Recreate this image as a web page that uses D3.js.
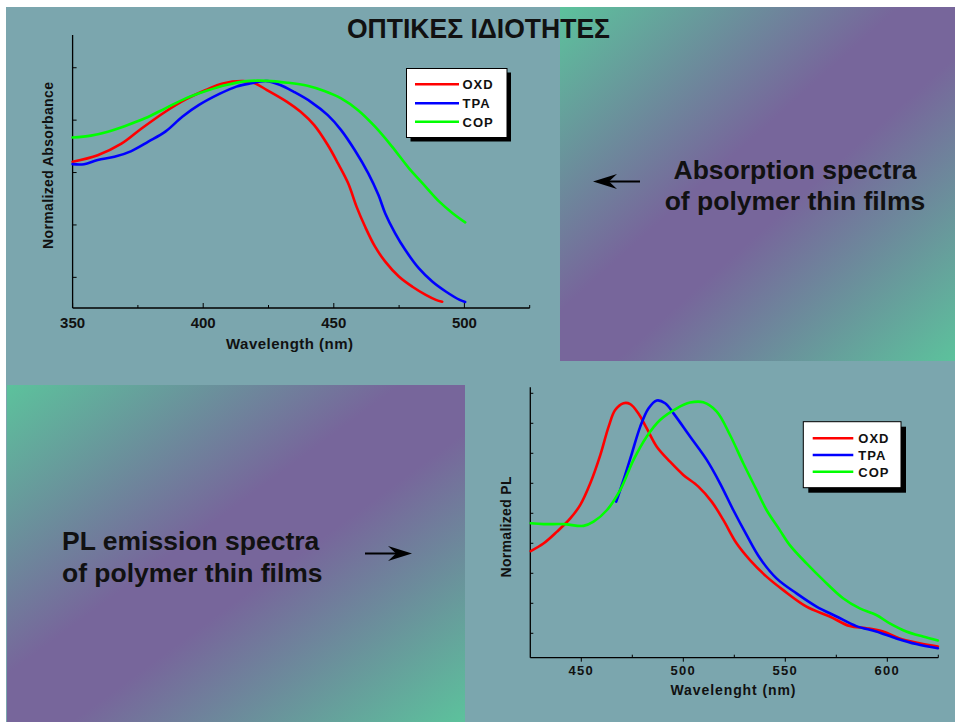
<!DOCTYPE html>
<html>
<head>
<meta charset="utf-8">
<script src="https://cdn.jsdelivr.net/npm/d3@7"></script>
<style>
  html, body { margin: 0; padding: 0; background: #fff; }
  svg { display: block; }
  text { font-family: "Liberation Sans", Arial, sans-serif; font-weight: bold; fill: #111; }
</style>
</head>
<body>
<svg id="slide" width="955" height="722"></svg>
<script>
// ---- Absorption spectra (wavelength in nm, normalized absorbance) ----
const absOxdWl  = [350, 359.6, 368.7, 376.4, 385.5, 393.3, 401, 407.5, 415.3, 419.2, 424.4, 432.1, 437.3, 442.5, 447.7, 451.6, 455.5, 458.7, 462, 465.8, 469.7, 474.9, 480.1, 485.2, 489.1, 491.5];
const absOxd    = [0.641, 0.666, 0.71, 0.768, 0.832, 0.879, 0.915, 0.94, 0.949, 0.943, 0.915, 0.87, 0.832, 0.781, 0.705, 0.635, 0.559, 0.47, 0.393, 0.317, 0.26, 0.203, 0.164, 0.133, 0.114, 0.107];
const absTpaWl  = [350, 354.4, 359.6, 366, 372.5, 379, 385.5, 392, 398.4, 406.2, 412.7, 417.9, 424.4, 429.5, 434.7, 441.2, 447.7, 452.8, 458, 463.2, 467.1, 469.7, 473.5, 477.4, 482.6, 487.8, 493, 498.2, 500.3];
const absTpa    = [0.632, 0.632, 0.648, 0.66, 0.682, 0.718, 0.756, 0.813, 0.858, 0.9, 0.928, 0.94, 0.949, 0.934, 0.908, 0.87, 0.819, 0.762, 0.686, 0.597, 0.514, 0.444, 0.368, 0.304, 0.234, 0.183, 0.145, 0.114, 0.106];
const absCopWl  = [350, 357, 363.5, 369.9, 377.7, 385.5, 393.3, 401, 408.8, 416.6, 424.4, 432.1, 439.9, 446.4, 452.8, 459.3, 465.8, 472.3, 478.8, 484, 490.4, 495.6, 500.3];
const absCop    = [0.734, 0.741, 0.756, 0.777, 0.807, 0.845, 0.883, 0.911, 0.934, 0.949, 0.95, 0.943, 0.931, 0.911, 0.883, 0.838, 0.775, 0.699, 0.616, 0.559, 0.489, 0.444, 0.41];

// ---- PL emission spectra (wavelength in nm, normalized PL) ----
const plOxdWl = [425.2, 431.6, 438.1, 444.6, 449.5, 454.4, 459.3, 463.4, 466.6, 470.7, 474, 478, 482.1, 487, 493.5, 500, 507.4, 513.9, 519.6, 526.1, 532.7, 540.8, 549, 560.4, 571.8, 581.6, 589.7, 597.9, 606, 615.8, 624.8];
const plOxd   = [0.374, 0.4, 0.439, 0.483, 0.528, 0.6, 0.694, 0.789, 0.844, 0.867, 0.864, 0.833, 0.783, 0.722, 0.672, 0.628, 0.589, 0.539, 0.478, 0.4, 0.344, 0.289, 0.244, 0.189, 0.156, 0.124, 0.117, 0.106, 0.083, 0.067, 0.056];
const plTpaWl = [467.1, 470.7, 474.8, 478.9, 483, 487, 491.1, 495.2, 503.3, 511.5, 518, 524.5, 531, 537.6, 545.7, 555.5, 565.3, 575.1, 584.8, 594.6, 604.4, 614.2, 624.8];
const plTpa   = [0.539, 0.611, 0.7, 0.789, 0.85, 0.876, 0.867, 0.833, 0.756, 0.678, 0.6, 0.511, 0.428, 0.35, 0.283, 0.233, 0.189, 0.156, 0.124, 0.106, 0.083, 0.064, 0.05];
const plCopWl = [425.2, 431.6, 441.4, 451.1, 456, 462.6, 469.1, 475.6, 482.1, 488.6, 496.8, 503.3, 509.8, 516.4, 522.9, 529.4, 535.9, 540.8, 547.3, 552.2, 560.4, 568.5, 578.3, 586.5, 594.6, 601.2, 609.3, 617.5, 624.8];
const plCop   = [0.467, 0.464, 0.464, 0.458, 0.472, 0.511, 0.578, 0.678, 0.756, 0.811, 0.85, 0.869, 0.87, 0.839, 0.761, 0.667, 0.578, 0.511, 0.444, 0.394, 0.333, 0.278, 0.217, 0.183, 0.161, 0.133, 0.106, 0.089, 0.076];

// ---- Series names, colours and axis ticks ----
const seriesNames  = ["OXD", "TPA", "COP"];
const seriesColors = ["#ff0000", "#0000ff", "#00ff00"];
const absMajorTicks = [350, 400, 450, 500];
const absMinorTicks = [375, 425, 475, 525];
const absYTicks     = [0.2, 0.4, 0.6, 0.8, 1.0];
const plMajorTicks  = [450, 500, 550, 600];
const plMinorTicks  = [475, 525, 575, 625];
const plYTicks      = [0.1, 0.2, 0.3, 0.4, 0.5, 0.6, 0.7, 0.8, 0.9];

const titleText = "ΟΠΤΙΚΕΣ ΙΔΙΟΤΗΤΕΣ";
const absCaption = ["Absorption spectra", "of polymer thin films"];
const plCaption  = ["PL emission spectra", "of polymer thin films"];

const zip = (xs, ys) => xs.map((x, i) => ({ x, y: ys[i] }));

const svg = d3.select("#slide");
const defs = svg.append("defs");

// Diagonal green–purple–green panel fill
const grad = defs.append("linearGradient")
  .attr("id", "panelGrad")
  .attr("x1", 0).attr("y1", 0).attr("x2", 1).attr("y2", 1);
grad.append("stop").attr("offset", "0%").attr("stop-color", "#5cc29c");
grad.append("stop").attr("offset", "43%").attr("stop-color", "#77669b");
grad.append("stop").attr("offset", "57%").attr("stop-color", "#77669b");
grad.append("stop").attr("offset", "100%").attr("stop-color", "#5cc29c");

// Slide background
svg.append("rect").attr("x", 6).attr("y", 7).attr("width", 949).attr("height", 715).attr("fill", "#7ba6ae");

// Decorative panels
svg.append("rect").attr("x", 560).attr("y", 7).attr("width", 395).attr("height", 354).attr("fill", "url(#panelGrad)");
svg.append("rect").attr("x", 7).attr("y", 385).attr("width", 458).attr("height", 337).attr("fill", "url(#panelGrad)");

// Title
svg.append("text")
  .attr("x", 347).attr("y", 38)
  .attr("font-size", 28)
  .attr("textLength", 263).attr("lengthAdjust", "spacingAndGlyphs")
  .text(titleText);

// Captions
const capA = svg.append("text").attr("font-size", 26.5).attr("text-anchor", "middle");
capA.append("tspan").attr("x", 795).attr("y", 179).text(absCaption[0]);
capA.append("tspan").attr("x", 795).attr("y", 210).text(absCaption[1]);

const capP = svg.append("text").attr("font-size", 26.5);
capP.append("tspan").attr("x", 62).attr("y", 550).text(plCaption[0]);
capP.append("tspan").attr("x", 62).attr("y", 582).text(plCaption[1]);

// Arrows
function arrow(x0, x1, y) {
  const dir = Math.sign(x1 - x0);
  const len = 24, half = 7.5, notch = 16;
  svg.append("line")
    .attr("x1", x0).attr("y1", y).attr("x2", x1 - dir * notch).attr("y2", y)
    .attr("stroke", "#000").attr("stroke-width", 2);
  svg.append("path")
    .attr("d", `M${x1},${y} L${x1 - dir * len},${y - half} L${x1 - dir * notch},${y} L${x1 - dir * len},${y + half} Z`)
    .attr("fill", "#000");
}
arrow(640, 593, 181.5);
arrow(365, 412, 553.5);

// Generic spectrum panel
function drawChart(cfg) {
  const g = svg.append("g");
  const x = d3.scaleLinear().domain(cfg.xDomain).range(cfg.xRange);
  const y = d3.scaleLinear().domain(cfg.yDomain).range(cfg.yRange);
  const [x0, x1] = cfg.xRange;
  const [yb, yt] = cfg.yRange;

  // axis lines
  g.append("line").attr("x1", x0).attr("x2", x0).attr("y1", yb).attr("y2", yt)
    .attr("stroke", "#000").attr("stroke-width", 1.3);
  g.append("line").attr("x1", x0).attr("x2", x1).attr("y1", yb).attr("y2", yb)
    .attr("stroke", "#000").attr("stroke-width", 1.3);

  // x ticks
  g.selectAll(".xmaj").data(cfg.majorTicks).join("line")
    .attr("x1", d => x(d)).attr("x2", d => x(d))
    .attr("y1", yb).attr("y2", yb + cfg.majorTickLen)
    .attr("stroke", "#000").attr("stroke-width", 1);
  g.selectAll(".xmin").data(cfg.minorTicks).join("line")
    .attr("x1", d => x(d)).attr("x2", d => x(d))
    .attr("y1", yb).attr("y2", yb - 3)
    .attr("stroke", "#000").attr("stroke-width", 1);
  g.selectAll(".xlab").data(cfg.majorTicks).join("text")
    .attr("x", d => x(d)).attr("y", cfg.tickLabelY)
    .attr("text-anchor", "middle")
    .attr("font-size", cfg.tickFont)
    .attr("letter-spacing", cfg.tickSpacing)
    .text(d => d);

  // y ticks
  g.selectAll(".ytick").data(cfg.yTicks).join("line")
    .attr("x1", x0).attr("x2", x0 + cfg.yTickLen)
    .attr("y1", d => y(d)).attr("y2", d => y(d))
    .attr("stroke", "#000").attr("stroke-width", 1);

  // axis titles
  g.append("text")
    .attr("x", cfg.xTitlePos[0] - cfg.xTitleLen / 2).attr("y", cfg.xTitlePos[1])
    .attr("font-size", cfg.titleFont)
    .attr("textLength", cfg.xTitleLen).attr("lengthAdjust", "spacing")
    .text(cfg.xTitle);
  g.append("text")
    .attr("transform", `translate(${cfg.yTitlePos[0]},${cfg.yTitlePos[1] + cfg.yTitleLen / 2}) rotate(-90)`)
    .attr("font-size", cfg.yTitleFont)
    .attr("textLength", cfg.yTitleLen).attr("lengthAdjust", "spacing")
    .text(cfg.yTitle);

  // curves
  const line = d3.line().x(d => x(d.x)).y(d => y(d.y)).curve(d3.curveCatmullRom.alpha(0.5));
  cfg.series.forEach((s, i) => {
    g.append("path").datum(s)
      .attr("d", line)
      .attr("fill", "none")
      .attr("stroke", seriesColors[i])
      .attr("stroke-width", 2.6)
      .attr("stroke-linejoin", "round")
      .attr("stroke-linecap", "round");
  });

  // legend
  const L = cfg.legend;
  g.append("rect").attr("x", L.x + L.shadow).attr("y", L.y + L.shadow)
    .attr("width", L.w).attr("height", L.h).attr("fill", "#000");
  g.append("rect").attr("x", L.x).attr("y", L.y).attr("width", L.w).attr("height", L.h)
    .attr("fill", "#fff").attr("stroke", "#000").attr("stroke-width", 1);
  seriesNames.forEach((name, i) => {
    const ly = L.rowY[i];
    g.append("line").attr("x1", L.lineX[0]).attr("x2", L.lineX[1]).attr("y1", ly).attr("y2", ly)
      .attr("stroke", seriesColors[i]).attr("stroke-width", 2.4);
    g.append("text").attr("x", L.textX).attr("y", ly + 5)
      .attr("font-size", 13).attr("letter-spacing", 1)
      .text(name);
  });
}

drawChart({
  xDomain: [350, 525], xRange: [72.6, 529.7],
  yDomain: [0.083, 1.125], yRange: [308, 35],
  majorTicks: absMajorTicks, minorTicks: absMinorTicks, majorTickLen: -5,
  yTicks: absYTicks, yTickLen: 4,
  tickLabelY: 327.5, tickFont: 15, tickSpacing: 0,
  xTitle: "Wavelength (nm)", xTitlePos: [289.5, 349.3], xTitleLen: 127, titleFont: 15,
  yTitle: "Normalized Absorbance", yTitlePos: [53, 165.5], yTitleLen: 167, yTitleFont: 14,
  series: [zip(absOxdWl, absOxd), zip(absTpaWl, absTpa), zip(absCopWl, absCop)],
  legend: { x: 406.5, y: 68.5, w: 100.5, h: 69, shadow: 4,
            lineX: [415, 459], rowY: [84.3, 103.3, 121.7], textX: 462.5 }
});

drawChart({
  xDomain: [425, 625], xRange: [530.3, 938.3],
  yDomain: [0.0187, 0.92], yRange: [657.7, 387.3],
  majorTicks: plMajorTicks, minorTicks: plMinorTicks, majorTickLen: 4,
  yTicks: plYTicks, yTickLen: 3,
  tickLabelY: 675, tickFont: 13, tickSpacing: 1.3,
  xTitle: "Wavelenght (nm)", xTitlePos: [733, 695], xTitleLen: 125, titleFont: 14,
  yTitle: "Normalized  PL", yTitlePos: [510.5, 527], yTitleLen: 101, yTitleFont: 14,
  series: [zip(plOxdWl, plOxd), zip(plTpaWl, plTpa), zip(plCopWl, plCop)],
  legend: { x: 803.3, y: 421.7, w: 97.7, h: 66, shadow: 5,
            lineX: [812.7, 853.3], rowY: [438.3, 455, 471.7], textX: 858.3 }
});
</script>
</body>
</html>
